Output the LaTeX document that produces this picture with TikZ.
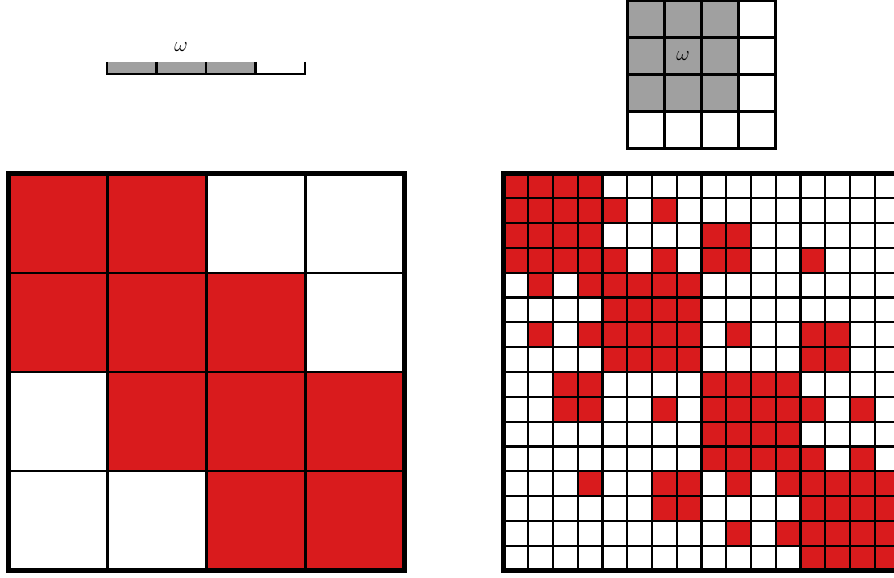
\documentclass[tikz,border=0pt]{standalone}
\definecolor{cred}{RGB}{217,27,29}
\definecolor{cgray}{RGB}{160,160,160}
\begin{document}
\begin{tikzpicture}[x=1pt,y=-1pt,
  innerline/.style={line width=2.2pt},
  outerline/.style={line width=5pt},
  smallline/.style={line width=2.6pt},
  lab/.style={inner sep=0pt,font=\fontsize{20}{24}\selectfont}]
\useasboundingbox (0,0) rectangle (894,578);
\clip (0,0) rectangle (894,578);
% ---------- left 4x4 grid ----------
\foreach \row [count=\r from 0] in {{1,1,0,0},{1,1,1,0},{0,1,1,1},{0,0,1,1}} {
  \foreach \v [count=\c from 0] in \row {
    \ifnum\v=1 \fill[cred] (8.5+99*\c,173.5+99*\r) rectangle ++(99,99); \fi
  }
}
\foreach \i in {1,2,3} {
  \draw[innerline] (8.5+99*\i,173.5) -- ++(0,397);
  \draw[innerline] (8.5,173.5+99.25*\i) -- ++(396,0);
}
\draw[outerline] (8.5,173.5) rectangle (404.5,570.5);
% ---------- right 16x16 grid ----------
\foreach \row [count=\r from 0] in {
 {1,1,1,1,0,0,0,0,0,0,0,0,0,0,0,0},
 {1,1,1,1,1,0,1,0,0,0,0,0,0,0,0,0},
 {1,1,1,1,0,0,0,0,1,1,0,0,0,0,0,0},
 {1,1,1,1,1,0,1,0,1,1,0,0,1,0,0,0},
 {0,1,0,1,1,1,1,1,0,0,0,0,0,0,0,0},
 {0,0,0,0,1,1,1,1,0,0,0,0,0,0,0,0},
 {0,1,0,1,1,1,1,1,0,1,0,0,1,1,0,0},
 {0,0,0,0,1,1,1,1,0,0,0,0,1,1,0,0},
 {0,0,1,1,0,0,0,0,1,1,1,1,0,0,0,0},
 {0,0,1,1,0,0,1,0,1,1,1,1,1,0,1,0},
 {0,0,0,0,0,0,0,0,1,1,1,1,0,0,0,0},
 {0,0,0,0,0,0,0,0,1,1,1,1,1,0,1,0},
 {0,0,0,1,0,0,1,1,0,1,0,1,1,1,1,1},
 {0,0,0,0,0,0,1,1,0,0,0,0,1,1,1,1},
 {0,0,0,0,0,0,0,0,0,1,0,1,1,1,1,1},
 {0,0,0,0,0,0,0,0,0,0,0,0,1,1,1,1}} {
  \foreach \v [count=\c from 0] in \row {
    \ifnum\v=1 \fill[cred] (503.5+24.75*\c,173.5+24.8125*\r) rectangle ++(24.75,24.8125); \fi
  }
}
\foreach \i in {1,...,15} {
  \draw[innerline] (503.5+24.75*\i,173.5) -- ++(0,397);
  \draw[innerline] (503.5,173.5+24.8125*\i) -- ++(396,0);
}
\draw[outerline] (503.5,173.5) rectangle (899.5,570.5);
% ---------- small 4x4 kernel ----------
\fill[cgray] (627.5,0.5) rectangle (738.5,111.5);
\foreach \i in {1,2,3} {
  \draw[smallline] (627.5+37*\i,0.5) -- ++(0,148);
  \draw[smallline] (627.5,0.5+37*\i) -- ++(148,0);
}
\draw[smallline] (627.5,0.5) rectangle (775.5,148.5);
\node[lab] (w2) at (683,56) {$\omega$};
% ---------- 1D strip ----------
\fill[cgray] (107,62) rectangle (255.5,74);
\foreach \x in {107,156.5,206,255.5,305} {
  \draw[smallline] (\x,62) -- (\x,75.3);
}
\draw[smallline] (107,74) -- (305,74);
\node[lab] (w1) at (181,47) {$\omega$};
\end{tikzpicture}
\end{document}
